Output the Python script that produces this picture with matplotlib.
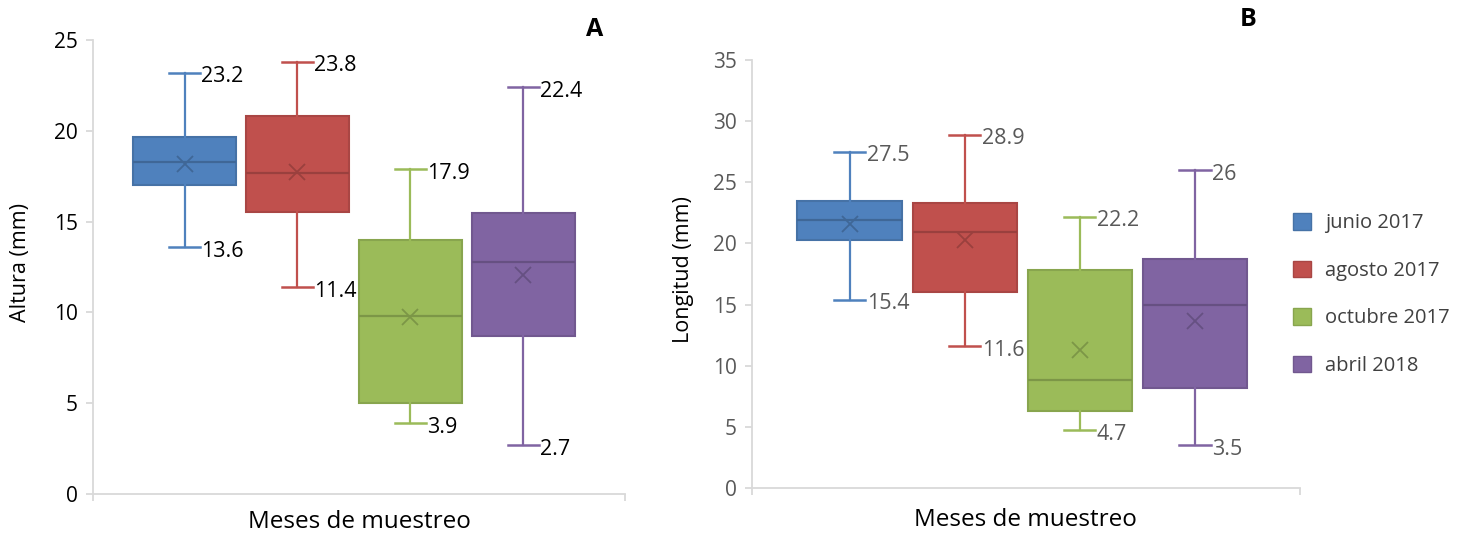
import matplotlib
matplotlib.use("Agg")
import matplotlib.pyplot as plt
from matplotlib.patches import Patch
import numpy as np

plt.rcParams['font.family'] = ['Open Sans', 'DejaVu Sans']

months = ["junio 2017", "agosto 2017", "octubre 2017", "abril 2018"]
colors = ["#4F81BD", "#C0504D", "#9BBB59", "#8064A2"]

# Panel A: Altura (mm)
a_min = [13.6, 11.4, 3.9, 2.7]
a_q1 = [17.0, 15.55, 5.0, 8.7]
a_med = [18.3, 17.7, 9.8, 12.75]
a_q3 = [19.65, 20.8, 14.0, 15.45]
a_max = [23.2, 23.8, 17.9, 22.4]
a_mean = [18.15, 17.75, 9.75, 12.05]

# Panel B: Longitud (mm)
b_min = [15.4, 11.6, 4.7, 3.5]
b_q1 = [20.3, 16.0, 6.3, 8.2]
b_med = [21.95, 20.95, 8.85, 14.95]
b_q3 = [23.45, 23.3, 17.85, 18.7]
b_max = [27.5, 28.9, 22.2, 26.0]
b_mean = [21.6, 20.3, 11.3, 13.65]

a_labels = ["23.2", "23.8", "17.9", "22.4"], ["13.6", "11.4", "3.9", "2.7"]
b_labels = ["27.5", "28.9", "22.2", "26"], ["15.4", "11.6", "4.7", "3.5"]


def darker(c, f=0.8):
    r, g, b = matplotlib.colors.to_rgb(c)
    return (r * f, g * f, b * f)


fig = plt.figure(figsize=(14.62, 5.37), dpi=100)
axA = fig.add_axes([0.0636, 0.0801, 0.3640, 0.8454])
axB = fig.add_axes([0.5144, 0.0913, 0.3746, 0.7970])


def draw(ax, mn, q1, med, q3, mx, mean, labels, ymax, txtcolor, xlim):
    pos = np.arange(len(months))
    for i in range(len(months)):
        st = [dict(whislo=mn[i], q1=q1[i], med=med[i], q3=q3[i], whishi=mx[i],
                   mean=mean[i], fliers=[])]
        c = colors[i]
        dk = darker(c, 0.8)
        ax.bxp(st, positions=[pos[i]], widths=0.91, capwidths=0.27,
               patch_artist=True, showmeans=True, manage_ticks=False,
               boxprops=dict(facecolor=c, edgecolor=darker(c, 0.88), linewidth=1.5),
               whiskerprops=dict(color=c, linewidth=1.6),
               capprops=dict(color=c, linewidth=1.8),
               medianprops=dict(color=dk, linewidth=1.6),
               meanprops=dict(marker='x', markeredgecolor=dk, markersize=12,
                              markeredgewidth=1.3))
        ax.annotate(labels[0][i], (pos[i] + 0.135, mx[i]), xytext=(1, -3),
                    textcoords='offset points', ha='left', va='center',
                    fontsize=15.5, color=txtcolor)
        ax.annotate(labels[1][i], (pos[i] + 0.135, mn[i]), xytext=(1, -3),
                    textcoords='offset points', ha='left', va='center',
                    fontsize=15.5, color=txtcolor)
    ax.set_ylim(0, ymax)
    ax.set_xlim(*xlim)
    ax.set_yticks(np.arange(0, ymax + 1, 5))
    ax.set_xticks(list(xlim))
    ax.set_xticklabels([])
    for s in ['top', 'right']:
        ax.spines[s].set_visible(False)
    for s in ['left', 'bottom']:
        ax.spines[s].set_color('#D9D9D9')
        ax.spines[s].set_linewidth(1.3)
    ax.tick_params(axis='both', colors='#D9D9D9', length=5, width=1.3)
    ax.tick_params(axis='y', labelcolor=txtcolor, labelsize=15, pad=6)
    ax.set_xlabel("Meses de muestreo", fontsize=17.5, color='black')
    ax.xaxis.label.set_va('center')


draw(axA, a_min, a_q1, a_med, a_q3, a_max, a_mean, a_labels, 25, 'black', (-0.81, 3.9))
draw(axB, b_min, b_q1, b_med, b_q3, b_max, b_mean, b_labels, 35, '#595959', (-0.85, 3.91))

axA.set_ylabel("Altura (mm)", fontsize=15.5, color='black')
axB.set_ylabel("Longitud (mm)", fontsize=15.5, color='black')
axA.yaxis.label.set_va('center')
axB.yaxis.label.set_va('center')
axA.yaxis.set_label_coords(-0.137, 0.51)
axB.yaxis.set_label_coords(-0.126, 0.51)
axA.xaxis.set_label_coords(0.5, -0.062)
axB.xaxis.set_label_coords(0.5, -0.075)

fig.text(595 / 1462, 1 - 30 / 537, "A", fontsize=18, fontweight='bold', ha='center', va='center')
fig.text(1248 / 1462, 1 - 20 / 537, "B", fontsize=18, fontweight='bold', ha='center', va='center')

handles = [Patch(facecolor=c, edgecolor=darker(c, 0.88), linewidth=1.0) for c in colors]
fig.legend(handles, months, loc='upper left', bbox_to_anchor=(1285 / 1462, 1 - 205 / 537),
           frameon=False, fontsize=14.5, labelcolor='#404040', handlelength=0.9,
           handleheight=0.9, handletextpad=0.7, labelspacing=1.35, borderaxespad=0)

fig.savefig("out.png", dpi=100)
